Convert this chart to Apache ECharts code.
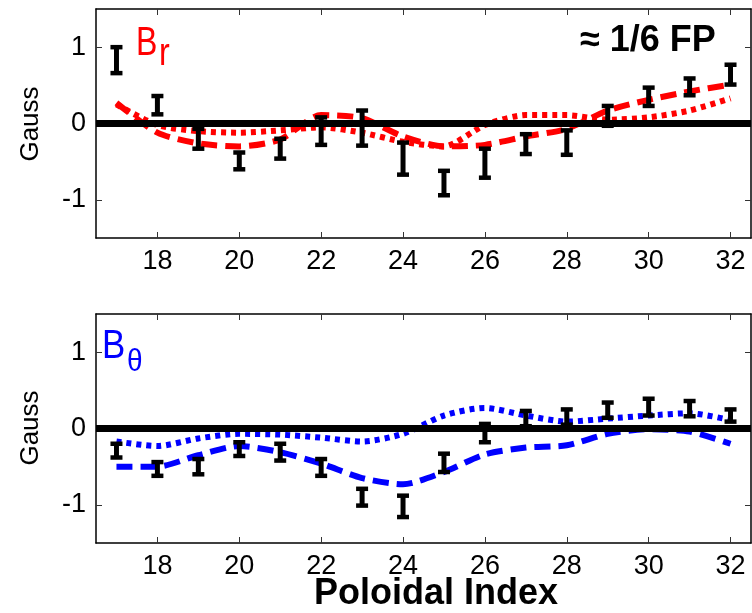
<!DOCTYPE html>
<html>
<head>
<meta charset="utf-8">
<script src="https://cdn.jsdelivr.net/npm/echarts@6/dist/echarts.min.js"></script>
<style>
html,body{margin:0;padding:0;background:#fff;}
#chart{width:752px;height:613px;}
</style>
</head>
<body>
<div id="chart"></div>
<script>
// ---- data ----
const indices = [17,18,19,20,21,22,23,24,25,26,27,28,29,30,31,32];
const xTicks = [18,20,22,24,26,28,30,32];
const yTicks = [-1,0,1];

// B_r panel (top)
const brMean   = [0.83, 0.24, -0.20, -0.49, -0.33, -0.10, -0.06, -0.46, -0.78, -0.52, -0.27, -0.25, 0.10, 0.35, 0.48, 0.64];
const brErr    = [0.17, 0.12, 0.13, 0.11, 0.13, 0.18, 0.23, 0.21, 0.16, 0.19, 0.13, 0.16, 0.13, 0.12, 0.11, 0.13];
const brDashed = [0.27, -0.12, -0.26, -0.30, -0.21, 0.11, 0.07, -0.17, -0.30, -0.28, -0.17, -0.07, 0.17, 0.31, 0.42, 0.51];
const brDotted = [0.25, -0.02, -0.10, -0.12, -0.09, -0.05, -0.12, -0.24, -0.30, -0.02, 0.11, 0.11, 0.05, 0.08, 0.17, 0.33];

// B_theta panel (bottom)
const btMean   = [-0.29, -0.53, -0.50, -0.27, -0.31, -0.51, -0.90, -1.02, -0.45, -0.06, 0.13, 0.15, 0.24, 0.28, 0.26, 0.17];
const btErr    = [0.09, 0.09, 0.10, 0.09, 0.11, 0.11, 0.11, 0.14, 0.12, 0.12, 0.10, 0.10, 0.10, 0.11, 0.10, 0.08];
const btDashed = [-0.50, -0.50, -0.35, -0.23, -0.31, -0.46, -0.65, -0.73, -0.57, -0.34, -0.25, -0.22, -0.07, -0.01, -0.04, -0.20];
const btDotted = [-0.17, -0.23, -0.13, -0.07, -0.08, -0.12, -0.17, -0.07, 0.17, 0.27, 0.17, 0.09, 0.13, 0.17, 0.20, 0.11];

// ---- chart ----
const FONT = "'Liberation Sans', Arial, sans-serif";
const chart = echarts.init(document.getElementById('chart'), null, {renderer: 'canvas'});

function pairs(vals){ return indices.map((x,i)=>[x, vals[i]]); }
function bars(mean, err){ return indices.map((x,i)=>[x, mean[i]-err[i], mean[i]+err[i]]); }

function errRender(params, api){
  const x = api.value(0), lo = api.value(1), hi = api.value(2);
  const p1 = api.coord([x, lo]), p2 = api.coord([x, hi]);
  const cw = 6;
  const st = {stroke:'#000', lineWidth:5, lineCap:'butt'};
  const cs = {stroke:'#000', lineWidth:4.5, lineCap:'butt'};
  return {type:'group', children:[
    {type:'line', shape:{x1:p1[0], y1:p1[1], x2:p2[0], y2:p2[1]}, style:st},
    {type:'line', shape:{x1:p1[0]-cw, y1:p1[1], x2:p1[0]+cw, y2:p1[1]}, style:cs},
    {type:'line', shape:{x1:p2[0]-cw, y1:p2[1], x2:p2[0]+cw, y2:p2[1]}, style:cs}
  ]};
}

const axisLine = {show:true, onZero:false, lineStyle:{color:'#000', width:1.5}};
const tickStyle = {show:true, inside:true, length:6, lineStyle:{color:'#333', width:1}};

function xAxes(gi){
  return [
    {type:'value', gridIndex:gi, position:'bottom', min:16.5, max:32.5,
     axisLine:axisLine, splitLine:{show:false},
     axisTick:Object.assign({customValues:xTicks}, tickStyle),
     axisLabel:{customValues:xTicks, color:'#000', fontSize:27, fontFamily:FONT, margin:10}},
    {type:'value', gridIndex:gi, position:'top', min:16.5, max:32.5,
     axisLine:axisLine, splitLine:{show:false},
     axisTick:Object.assign({customValues:xTicks}, tickStyle),
     axisLabel:{show:false}}
  ];
}
function yAxes(gi){
  return [
    {type:'value', gridIndex:gi, position:'left', min:-1.5, max:1.5,
     axisLine:axisLine, splitLine:{show:false},
     axisTick:Object.assign({customValues:yTicks}, tickStyle),
     axisLabel:{customValues:yTicks, color:'#000', fontSize:27, fontFamily:FONT, margin:10}},
    {type:'value', gridIndex:gi, position:'right', min:-1.5, max:1.5,
     axisLine:axisLine, splitLine:{show:false},
     axisTick:Object.assign({customValues:yTicks}, tickStyle),
     axisLabel:{show:false}}
  ];
}

function panelSeries(xi, yi, color, dashed, dotted, mean, err){
  return [
    {type:'line', xAxisIndex:xi, yAxisIndex:yi, data:[], silent:true, z:1,
     markLine:{silent:true, symbol:'none', label:{show:false},
       lineStyle:{color:'#000', width:7, type:'solid'},
       data:[{yAxis:0}]}},
    {type:'line', xAxisIndex:xi, yAxisIndex:yi, data:pairs(dashed), showSymbol:false, smooth:0.25, z:3,
     lineStyle:{color:color, width:6, type:[16,8], cap:'butt'}},
    {type:'line', xAxisIndex:xi, yAxisIndex:yi, data:pairs(dotted), showSymbol:false, smooth:0.25, z:3,
     lineStyle:{color:color, width:6, type:[5,5], cap:'butt'}},
    {type:'custom', xAxisIndex:xi, yAxisIndex:yi, data:bars(mean, err), renderItem:errRender, z:4,
     encode:{x:0, y:[1,2]}}
  ];
}

const option = {
  animation:false,
  backgroundColor:'#fff',
  grid:[
    {left:96, right:1, top:9, height:229},
    {left:96, right:1, top:314, height:229}
  ],
  xAxis:[...xAxes(0), ...xAxes(1)],
  yAxis:[...yAxes(0), ...yAxes(1)],
  series:[
    ...panelSeries(0, 0, '#ff0000', brDashed, brDotted, brMean, brErr),
    ...panelSeries(2, 2, '#0000ff', btDashed, btDotted, btMean, btErr)
  ],
  graphic:[
    {type:'text', x:31, y:124, rotation:Math.PI/2,
     style:{text:'Gauss', fill:'#000', font:"26px " + FONT, align:'center', verticalAlign:'middle'}},
    {type:'text', x:31, y:428, rotation:Math.PI/2,
     style:{text:'Gauss', fill:'#000', font:"26px " + FONT, align:'center', verticalAlign:'middle'}},
    {type:'text', x:136, y:44, scaleX:0.8,
     style:{text:'B', fill:'#ff0000', font:"40px " + FONT, align:'left', verticalAlign:'middle'}},
    {type:'text', x:159, y:55, scaleX:0.85,
     style:{text:'r', fill:'#ff0000', font:"38px " + FONT, align:'left', verticalAlign:'middle'}},
    {type:'text', x:102, y:347, scaleX:0.85,
     style:{text:'B', fill:'#0000ff', font:"41px " + FONT, align:'left', verticalAlign:'middle'}},
    {type:'text', x:127, y:362, scaleX:0.9,
     style:{text:'θ', fill:'#0000ff', font:"31px " + FONT, align:'left', verticalAlign:'middle'}},
    {type:'text', x:580, y:41,
     style:{text:'≈ 1/6 FP', fill:'#000', font:"bold 36px " + FONT, align:'left', verticalAlign:'middle'}},
    {type:'text', x:436, y:594,
     style:{text:'Poloidal Index', fill:'#000', font:"bold 36px " + FONT, align:'center', verticalAlign:'middle'}}
  ]
};
chart.setOption(option);
</script>
</body>
</html>
